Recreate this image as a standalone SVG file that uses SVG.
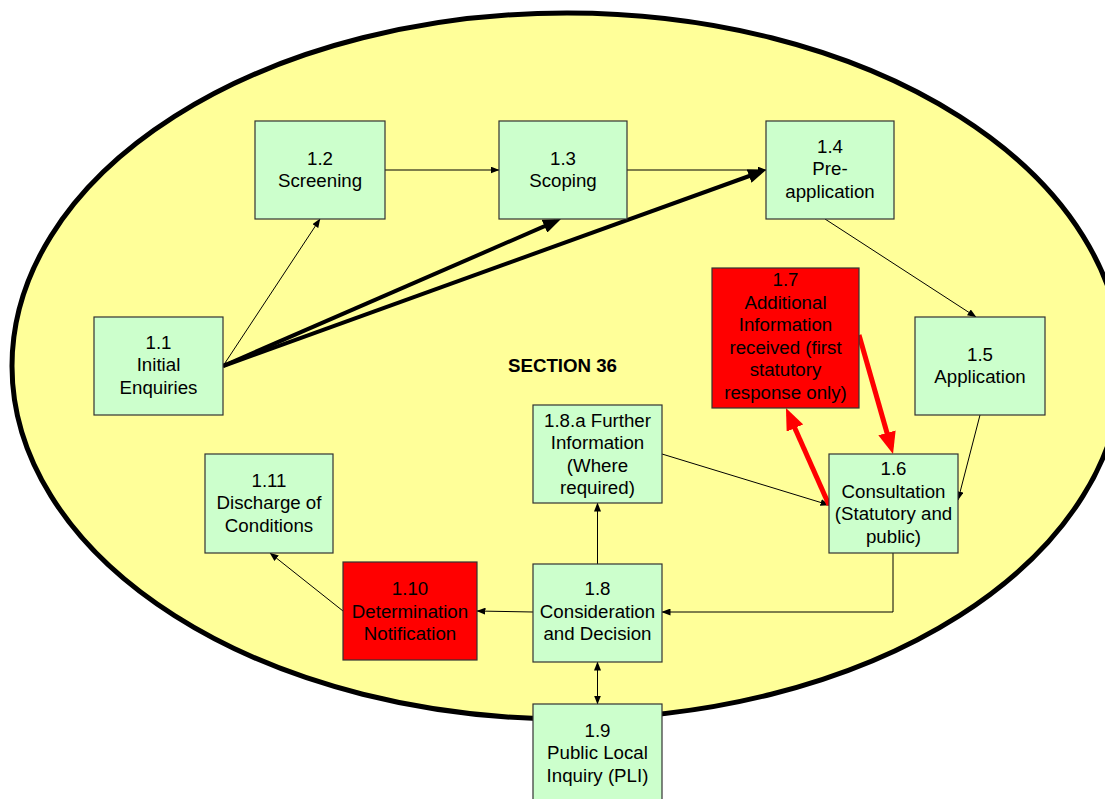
<svg xmlns="http://www.w3.org/2000/svg" width="1105" height="799" viewBox="0 0 1105 799">
<style>
.box{fill:#CCFFCC;stroke:#333;stroke-width:1.2}
.red{fill:#FF0000;stroke:#333;stroke-width:1.2}
.t{font-family:"Liberation Sans",Arial,sans-serif;font-size:18.7px;fill:#000;text-anchor:middle}
.b{font-weight:bold}
.thin{stroke:#000;stroke-width:1;fill:none;marker-end:url(#aThin)}
.thick{stroke:#000;stroke-width:4;fill:none;marker-end:url(#aThick)}
.redl{stroke:#FF0000;stroke-width:5;fill:none;marker-end:url(#aRed)}
</style>
<defs>
<marker id="aThin" viewBox="0 0 9 7" refX="8.5" refY="3.5" markerWidth="9" markerHeight="7" markerUnits="userSpaceOnUse" orient="auto-start-reverse"><path d="M0,0 L9,3.5 L0,7 z" fill="#000"/></marker>
<marker id="aThick" viewBox="0 0 18 14" refX="12" refY="7" markerWidth="18" markerHeight="14" markerUnits="userSpaceOnUse" orient="auto"><path d="M0,0 L18,7 L0,14 z" fill="#000"/></marker>
<marker id="aRed" viewBox="0 0 22 18" refX="15" refY="9" markerWidth="22" markerHeight="18" markerUnits="userSpaceOnUse" orient="auto"><path d="M0,0 L22,9 L0,18 z" fill="#FF0000"/></marker>
</defs>
<rect width="1105" height="799" fill="#fff"/>
<ellipse id="section36" cx="567" cy="366" rx="555" ry="353" fill="#FFFF99" stroke="#000" stroke-width="5"/>
<text class="t b" x="562.5" y="372">SECTION 36</text>
<g id="connectors">
<line class="thin" x1="385" y1="170" x2="499" y2="170"/>
<line class="thin" x1="627" y1="170" x2="766" y2="170"/>
<line class="thin" x1="223" y1="366" x2="320" y2="219"/>
<line class="thick" x1="223" y1="366" x2="555.5" y2="221.4"/>
<line class="thick" x1="223" y1="366" x2="760.4" y2="172"/>
<line class="thin" x1="825" y1="219" x2="976" y2="317"/>
<line class="thin" x1="980" y1="415" x2="958" y2="500"/>
<line class="thin" x1="662" y1="454" x2="829" y2="505"/>
<line class="redl" x1="829" y1="505" x2="788.8" y2="414.4"/>
<line class="redl" x1="859" y1="335" x2="891.1" y2="447.3"/>
<polyline class="thin" points="893,553 893,612 662,612"/>
<line class="thin" x1="597.5" y1="564" x2="597.5" y2="503"/>
<line class="thin" x1="533" y1="612" x2="477" y2="611"/>
<line class="thin" x1="343" y1="611" x2="270" y2="553"/>
<line class="thin" x1="597.5" y1="662" x2="597.5" y2="704" style="marker-start:url(#aThin)"/>
</g>
<g id="n1_1"><rect class="box" x="94" y="317" width="129" height="98"/><text class="t" x="158.5" y="348.5">1.1</text><text class="t" x="158.5" y="371">Initial</text><text class="t" x="158.5" y="393.5">Enquiries</text></g>
<g id="n1_2"><rect class="box" x="255" y="121" width="130" height="98"/><text class="t" x="320" y="164.5">1.2</text><text class="t" x="320" y="187">Screening</text></g>
<g id="n1_3"><rect class="box" x="499" y="121" width="128" height="98"/><text class="t" x="563" y="164.5">1.3</text><text class="t" x="563" y="187">Scoping</text></g>
<g id="n1_4"><rect class="box" x="766" y="121" width="128" height="98"/><text class="t" x="830" y="152.5">1.4</text><text class="t" x="830" y="175">Pre-</text><text class="t" x="830" y="197.5">application</text></g>
<g id="n1_5"><rect class="box" x="915" y="317" width="130" height="98"/><text class="t" x="980" y="360.5">1.5</text><text class="t" x="980" y="383">Application</text></g>
<g id="n1_6"><rect class="box" x="829" y="454" width="129" height="99"/><text class="t" x="893.5" y="475">1.6</text><text class="t" x="893.5" y="497.5">Consultation</text><text class="t" x="893.5" y="520">(Statutory and</text><text class="t" x="893.5" y="542.5">public)</text></g>
<g id="n1_7"><rect class="red" x="712" y="268" width="147" height="140"/><text class="t" x="785.5" y="286">1.7</text><text class="t" x="785.5" y="308.5">Additional</text><text class="t" x="785.5" y="331">Information</text><text class="t" x="785.5" y="353.5">received (first</text><text class="t" x="785.5" y="376">statutory</text><text class="t" x="785.5" y="398.5">response only)</text></g>
<g id="n1_8a"><rect class="box" x="533" y="405" width="129" height="98"/><text class="t" x="597.5" y="426.5">1.8.a Further</text><text class="t" x="597.5" y="449">Information</text><text class="t" x="597.5" y="471.5">(Where</text><text class="t" x="597.5" y="494">required)</text></g>
<g id="n1_8"><rect class="box" x="533" y="564" width="129" height="98"/><text class="t" x="597.5" y="595">1.8</text><text class="t" x="597.5" y="617.5">Consideration</text><text class="t" x="597.5" y="640">and Decision</text></g>
<g id="n1_9"><rect class="box" x="533" y="704" width="129" height="100"/><text class="t" x="597.5" y="736.5">1.9</text><text class="t" x="597.5" y="759">Public Local</text><text class="t" x="597.5" y="781.5">Inquiry (PLI)</text></g>
<g id="n1_10"><rect class="red" x="343" y="562" width="134" height="98"/><text class="t" x="410" y="595">1.10</text><text class="t" x="410" y="617.5">Determination</text><text class="t" x="410" y="640">Notification</text></g>
<g id="n1_11"><rect class="box" x="205" y="454" width="128" height="99"/><text class="t" x="269" y="486.5">1.11</text><text class="t" x="269" y="509">Discharge of</text><text class="t" x="269" y="531.5">Conditions</text></g>
</svg>
